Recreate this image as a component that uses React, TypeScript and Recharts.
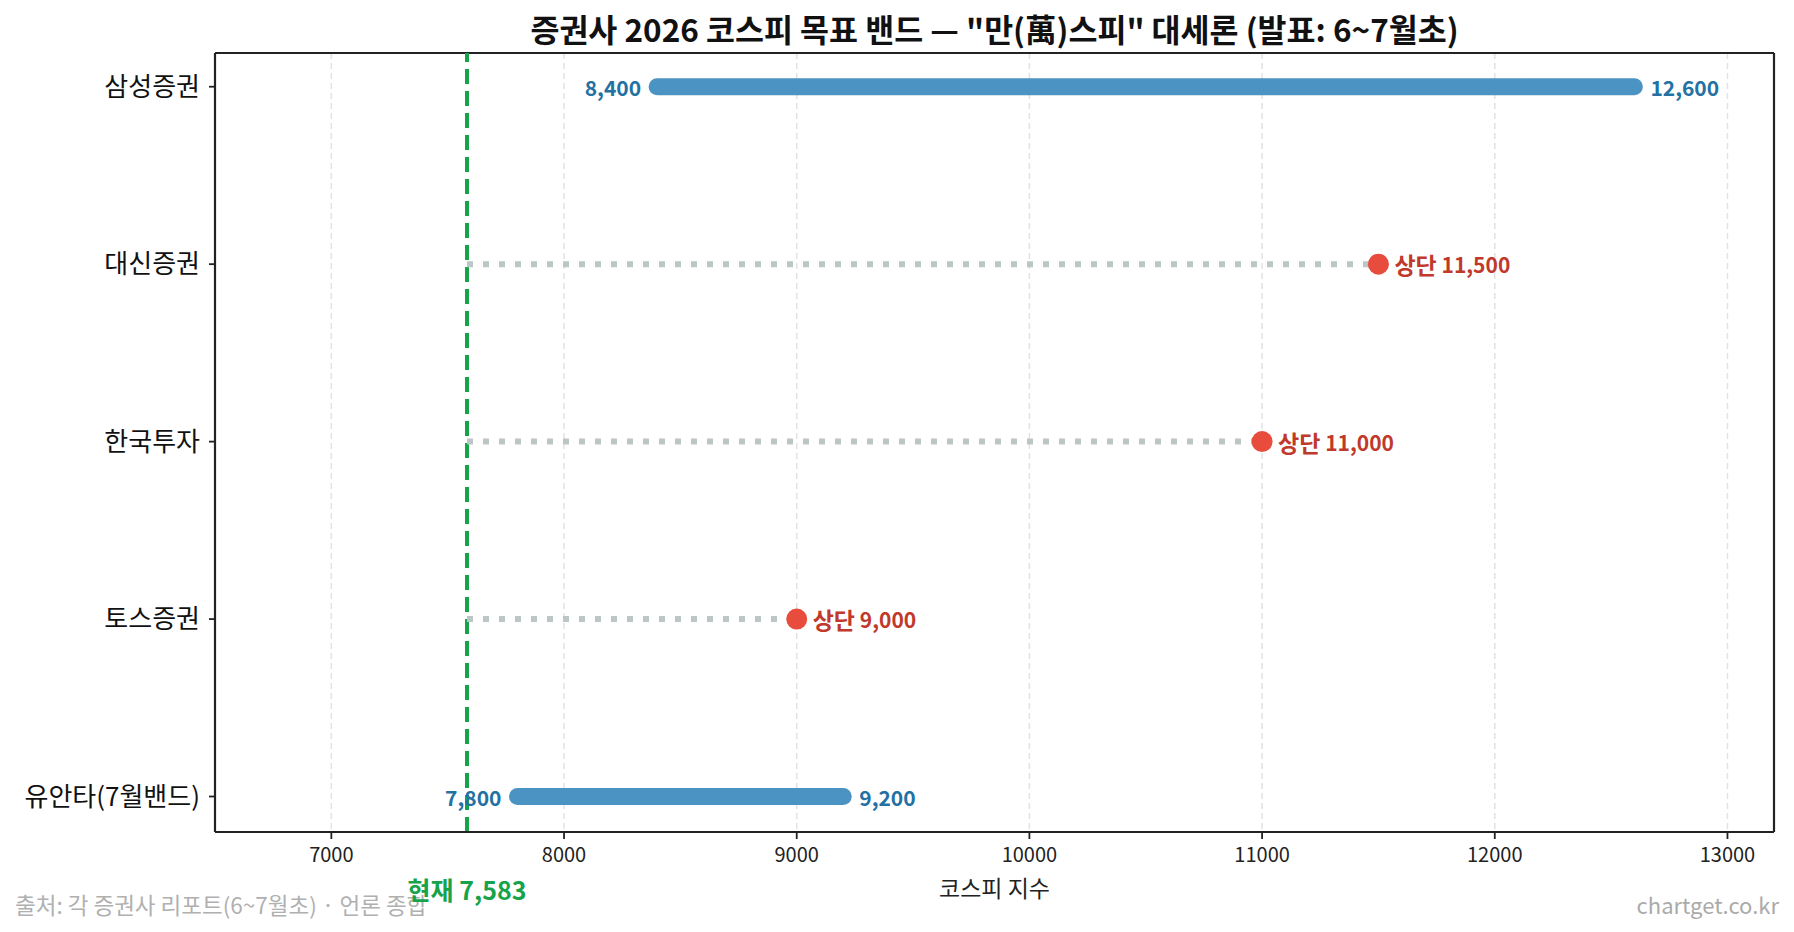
import {
  ComposedChart,
  Scatter,
  XAxis,
  YAxis,
  CartesianGrid,
  ReferenceLine,
} from 'recharts';

const firms = ['삼성증권', '대신증권', '한국투자', '토스증권', '유안타(7월밴드)'];
// 하단이 없는 곳은 null (상단만 발표)
const lows: (number | null)[] = [8400, null, null, null, 7800];
const highs = [12600, 11500, 11000, 9000, 9200];
const currentKospi = 7583;
const xTicks = [7000, 8000, 9000, 10000, 11000, 12000, 13000];

const FONT = "'Noto Sans CJK KR', 'Noto Sans', sans-serif";
const X_DOMAIN = [6500, 13200];
const Y_DOMAIN = [-0.19, 4.2];

const fmt = (v: number) => v.toLocaleString('en-US');

// band ends: value labels on both sides of the thick line
const BandEnd = (props: any) => {
  const { cx, cy, payload } = props;
  const isLow = payload.end === 'low';
  return (
    <text
      x={isLow ? cx - 16 : cx + 16}
      y={cy}
      textAnchor={isLow ? 'end' : 'start'}
      dominantBaseline="central"
      fontSize={21}
      fontWeight={700}
      fill="#2471a3"
      fontFamily={FONT}
    >
      {fmt(payload.x)}
    </text>
  );
};

// upper-only: red dot + label, nothing at the current-level end
const UpperEnd = (props: any) => {
  const { cx, cy, payload } = props;
  if (payload.end !== 'high') return <g />;
  return (
    <g>
      <circle cx={cx} cy={cy} r={10.5} fill="#e74c3c" />
      <text
        x={cx + 16}
        y={cy}
        dominantBaseline="central"
        fontSize={21}
        fontWeight={700}
        fill="#c0392b"
        fontFamily={FONT}
      >
        <tspan fontSize={23}>상단</tspan>
        {` ${fmt(payload.x)}`}
      </text>
    </g>
  );
};

const App = () => {
  return (
    <div
      style={{
        position: 'absolute',
        left: 0,
        top: 0,
        width: 1794,
        height: 932,
        background: '#fff',
        fontFamily: FONT,
      }}
    >
      <ComposedChart
        width={1794}
        height={932}
        margin={{ top: 53, right: 20, bottom: 0, left: 0 }}
      >
        <CartesianGrid
          horizontal={false}
          stroke="#e2e2e2"
          strokeWidth={1.5}
          strokeDasharray="6 4"
        />
        <XAxis
          type="number"
          dataKey="x"
          domain={X_DOMAIN}
          ticks={xTicks}
          allowDataOverflow
          height={100}
          tickSize={7}
          tickMargin={9}
          axisLine={{ stroke: '#222', strokeWidth: 2.2 }}
          tickLine={{ stroke: '#222', strokeWidth: 1.8 }}
          tick={{ fill: '#222', fontSize: 20, fontFamily: FONT }}
        />
        <YAxis
          type="number"
          dataKey="y"
          domain={Y_DOMAIN}
          reversed
          allowDataOverflow
          ticks={[0, 1, 2, 3, 4]}
          tickFormatter={(i: number) => firms[i] ?? ''}
          width={215}
          tickSize={6}
          tickMargin={9}
          axisLine={{ stroke: '#222', strokeWidth: 2.2 }}
          tickLine={{ stroke: '#222', strokeWidth: 1.8 }}
          tick={{ fill: '#111', fontSize: 26, fontFamily: FONT }}
        />

        {/* top / right frame */}
        <ReferenceLine y={Y_DOMAIN[0]} stroke="#222" strokeWidth={2.2} />
        <ReferenceLine x={X_DOMAIN[1]} stroke="#222" strokeWidth={2.2} />

        {firms.map((firm, i) => {
          const low = lows[i];
          const hasLow = low !== null;
          const pts = [
            { x: hasLow ? low : currentKospi, y: i, end: 'low' },
            { x: highs[i], y: i, end: 'high' },
          ];
          return (
            <Scatter
              key={firm}
              name={firm}
              data={pts}
              fill={hasLow ? '#4a93c3' : '#bdc6c6'}
              isAnimationActive={false}
              line={
                hasLow
                  ? { stroke: '#4a93c3', strokeWidth: 17, strokeLinecap: 'round' }
                  : { stroke: '#bdc6c6', strokeWidth: 6, strokeDasharray: '6 10' }
              }
              shape={hasLow ? BandEnd : UpperEnd}
            />
          );
        })}

        <ReferenceLine
          x={currentKospi}
          stroke="#16a34a"
          strokeWidth={4}
          strokeDasharray="15 7"
          label={(p: any) => {
            const vb = p.viewBox;
            return (
              <text
                x={vb.x}
                y={vb.y + vb.height + 57}
                textAnchor="middle"
                dominantBaseline="central"
                fontSize={25}
                fontWeight={700}
                fill="#16a34a"
                fontFamily={FONT}
              >
                {`현재 ${fmt(currentKospi)}`}
              </text>
            );
          }}
        />

        <text
          x={994.5}
          y={28}
          textAnchor="middle"
          dominantBaseline="central"
          fontSize={31.5}
          fontWeight={700}
          fill="#111"
          fontFamily={FONT}
        >
          증권사 2026 코스피 목표 밴드 — "만(萬)스피" 대세론 (발표: 6~7월초)
        </text>
        <text
          x={994.5}
          y={887}
          textAnchor="middle"
          dominantBaseline="central"
          fontSize={23}
          fill="#222"
          fontFamily={FONT}
        >
          코스피 지수
        </text>
        <text
          x={15}
          y={904}
          dominantBaseline="central"
          fontSize={22.5}
          fill="#b0b0b0"
          fontFamily={FONT}
        >
          출처: 각 증권사 리포트(6~7월초) · 언론 종합
        </text>
        <text
          x={1779}
          y={904}
          textAnchor="end"
          dominantBaseline="central"
          fontSize={22}
          fill="#aaaaaa"
          fontFamily={FONT}
        >
          chartget.co.kr
        </text>
      </ComposedChart>
    </div>
  );
};

export default App;
